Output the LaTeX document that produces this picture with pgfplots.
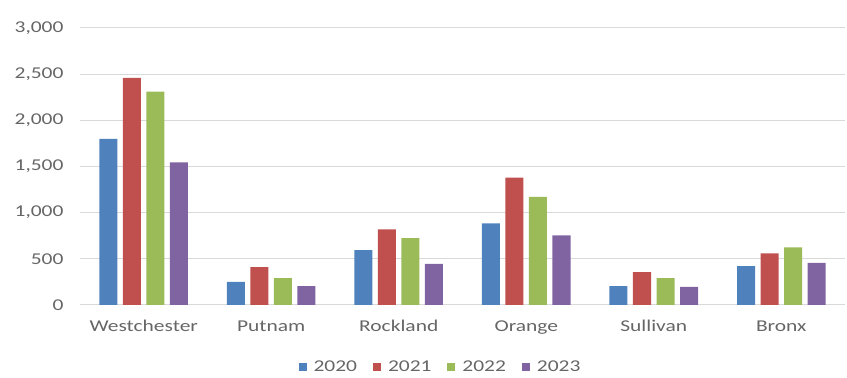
\documentclass[border=0pt]{standalone}
\usepackage{fontspec}
\setmainfont{Carlito}[FakeStretch=1.3]
\usepackage{pgfplots}
\pgfplotsset{compat=1.18}
\definecolor{cBlue}{HTML}{4F81BD}
\definecolor{cRed}{HTML}{C0504D}
\definecolor{cGreen}{HTML}{9BBB59}
\definecolor{cPurple}{HTML}{8064A2}
\definecolor{txtc}{HTML}{666666}
\definecolor{gridc}{HTML}{D9D9D9}
\begin{document}
\begin{tikzpicture}
\begin{axis}[
  at={(0,0)}, anchor=south west,
  scale only axis, width=765pt, height=277pt,
  ybar=5.5pt, bar width=18pt,
  xmin=-0.5, xmax=5.5, ymin=0, ymax=3000,
  xtick=data,
  xticklabels={Westchester,Putnam,Rockland,Orange,Sullivan,Bronx},
  ytick={0,500,...,3000},
  /pgf/number format/1000 sep={,},
  /pgf/number format/assume math mode=true,
  ymajorgrids=true, xmajorgrids=false,
  y grid style={draw=gridc, line width=1pt},
  axis x line*=bottom, axis y line*=left,
  x axis line style={draw=gridc, line width=1pt, -},
  y axis line style={draw=none},
  major tick length=0pt,
  tick label style={font=\fontsize{16.5}{20}\selectfont, text=txtc},
  xticklabel style={yshift=-12pt},
  yticklabel style={xshift=-13pt},
  ytick style={draw=none}, xtick style={draw=none},
  legend columns=4,
  legend style={at={(0.5,0)}, anchor=center, yshift=-62pt, xshift=-22pt, draw=none, fill=none,
    font=\fontsize{16.5}{20}\selectfont, text=txtc,
    /tikz/every odd column/.append style={column sep=5pt},
    /tikz/every even column/.append style={column sep=14pt}},
  legend image code/.code={\fill[#1] (0pt,-4pt) rectangle (8pt,4pt);},
]
\addplot[fill=cBlue, draw=none] coordinates {(0,1800) (1,250) (2,595) (3,885) (4,205) (5,420)};
\addplot[fill=cRed, draw=none] coordinates {(0,2460) (1,410) (2,820) (3,1380) (4,355) (5,560)};
\addplot[fill=cGreen, draw=none] coordinates {(0,2310) (1,290) (2,725) (3,1170) (4,290) (5,625)};
\addplot[fill=cPurple, draw=none] coordinates {(0,1545) (1,205) (2,445) (3,755) (4,195) (5,455)};
\legend{2020,2021,2022,2023}
\end{axis}
\useasboundingbox (-80pt,-72pt) rectangle (767pt,305pt);
\end{tikzpicture}
\end{document}
